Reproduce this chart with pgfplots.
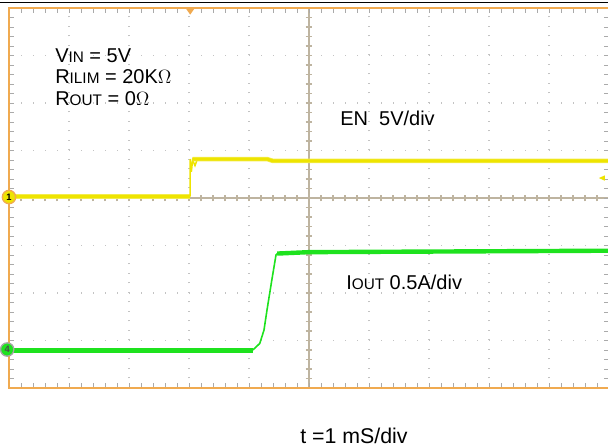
\documentclass[border=0pt]{standalone}
\usepackage{pgfplots}
\pgfplotsset{compat=1.18}
\usepackage{fontspec}
\setmainfont{Liberation Sans}

\definecolor{scopeyellow}{RGB}{238,228,0}
\definecolor{scopegreen}{RGB}{30,226,30}
\definecolor{frameorange}{RGB}{240,170,80}
\definecolor{crossline}{RGB}{190,180,160}
\definecolor{dotgray}{RGB}{195,195,195}
\definecolor{tickgray}{RGB}{170,170,170}

\newcommand{\lbl}{\fontsize{15}{18}\selectfont}
\newcommand{\sub}[1]{{\fontsize{11.5}{12}\selectfont #1}}

\begin{document}
\begin{tikzpicture}[x=0.75pt,y=0.75pt]
\useasboundingbox (0,0) rectangle (608,448);
\draw[black, line width=1.1pt] (0,445.5) -- (608,445.5);

% grid and centre cross
\begin{axis}[
  at={(6.75pt,45pt)}, anchor=south west,
  width=450pt, height=285pt, scale only axis,
  xmin=-5, xmax=5, ymin=-4, ymax=4,
  axis lines=middle,
  axis line style={-, crossline, line width=0.9pt},
  xtick={-5,...,5}, ytick={-4,...,4},
  minor x tick num=4, minor y tick num=4,
  xticklabels={}, yticklabels={},
  tick align=center,
  major tick length=5pt, minor tick length=5pt,
  tick style={crossline, line width=0.9pt},
  grid=major,
  x grid style={dotgray, line width=0.8pt, dash pattern=on 0.8pt off 6.325pt},
  y grid style={dotgray, line width=0.8pt, dash pattern=on 0.8pt off 8.2pt},
]
\end{axis}

% frame and traces
\begin{axis}[
  at={(6.75pt,45pt)}, anchor=south west,
  width=450pt, height=285pt, scale only axis,
  xmin=0, xmax=10, ymin=-4, ymax=4,
  xtick={0,...,10}, ytick={-4,...,4},
  minor x tick num=4, minor y tick num=4,
  xticklabels={}, yticklabels={},
  tick align=inside,
  major tick length=3.75pt, minor tick length=3.75pt,
  tick style={tickgray, line width=0.7pt},
  axis line style={frameorange, line width=1.6pt},
  clip=false,
]
% EN (channel 1)
\addplot[scopeyellow!70, line width=3.4pt, line cap=butt] coordinates {(0,0.03) (3.02,0.03)};
\addplot[scopeyellow, line width=2.2pt, line cap=butt] coordinates {(0,0.03) (3.02,0.03)};
\addplot[scopeyellow, line width=1.1pt] coordinates {(3.02,0.03) (3.02,0.82) (3.04,0.55) (3.06,0.80) (3.10,0.68) (3.14,0.82)};
\addplot[scopeyellow!70, line width=3.4pt, line cap=butt] coordinates {(3.06,0.82) (4.30,0.82) (4.40,0.78) (10,0.78)};
\addplot[scopeyellow, line width=2.2pt, line cap=butt] coordinates {(3.06,0.82) (4.30,0.82) (4.40,0.78) (10,0.78)};
% IOUT (channel 4)
\addplot[scopegreen, line width=3.3pt, line cap=butt] coordinates {(0,-3.21) (4.07,-3.21)};
\addplot[scopegreen, line width=1.2pt] coordinates {(4.05,-3.21) (4.10,-3.16) (4.18,-3.06) (4.25,-2.78) (4.30,-2.36) (4.38,-1.73) (4.45,-1.20) (4.48,-1.16)};
\addplot[scopegreen, line width=3.3pt, line cap=butt] coordinates {(4.47,-1.17) (5,-1.14) (10,-1.11)};

% channel markers
\node[circle, fill=scopeyellow, draw=frameorange, line width=1pt, inner sep=0pt, minimum size=10pt,
      font=\fontsize{7}{7}\selectfont\bfseries] at (axis cs:0,0.02) {1};
\node[circle, fill=scopegreen, draw=gray!70, line width=1pt, inner sep=0pt, minimum size=10pt,
      font=\fontsize{7}{7}\selectfont\bfseries, text=black!70] at (axis cs:-0.03,-3.19) {4};
% trigger position and level
\fill[frameorange] (axis cs:3.02,4) ++(-3.5pt,0pt) -- ++(7pt,0pt) -- ++(-3.5pt,-5pt) -- cycle;
\fill[scopeyellow] (axis cs:9.83,0.42) -- ++(4.5pt,2pt) -- ++(0pt,-4pt) -- cycle;
\end{axis}

% annotations
\node[anchor=base west, font=\lbl, inner sep=0pt] at (55,385) {V\sub{IN} = 5V};
\node[anchor=base west, font=\lbl, inner sep=0pt] at (55,364) {R\sub{ILIM} = 20K$\Omega$};
\node[anchor=base west, font=\lbl, inner sep=0pt] at (55,342) {R\sub{OUT} = 0$\Omega$};
\node[anchor=base west, font=\lbl, inner sep=0pt] at (340,322) {EN\ \ 5V/div};
\node[anchor=base west, font=\lbl, inner sep=0pt] at (346,158) {I\sub{OUT} 0.5A/div};
\node[anchor=base west, font=\fontsize{16}{19}\selectfont, inner sep=0pt] at (300,4) {t =1 mS/div};
\end{tikzpicture}
\end{document}
